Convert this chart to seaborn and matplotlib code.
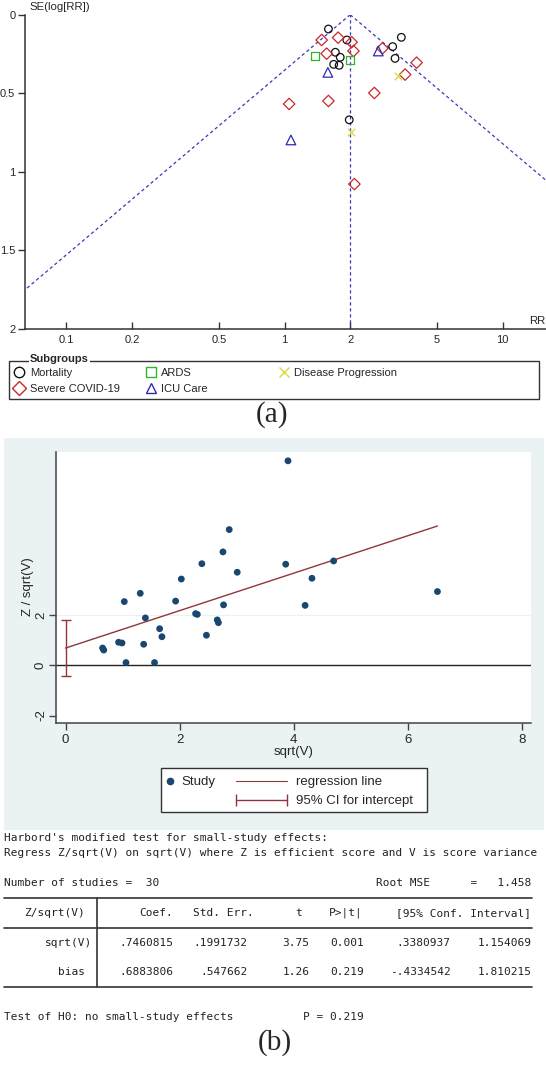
import matplotlib

matplotlib.use("Agg")

import matplotlib.pyplot as plt
import numpy as np
import pandas as pd
import seaborn as sns
from matplotlib.legend_handler import HandlerLine2D
from matplotlib.lines import Line2D
from matplotlib.patches import Rectangle

# --- panel (a): funnel plot, RR against SE(log[RR]) by subgroup ---
mortality_rr = [1.59, 1.93, 3.43, 3.13, 3.21, 1.71, 1.80, 1.68, 1.78, 1.98]
mortality_se = [0.091, 0.161, 0.144, 0.203, 0.278, 0.239, 0.271, 0.316, 0.322, 0.669]
severe_rr = [1.48, 1.76, 2.03, 2.07, 1.56, 2.81, 4.03, 3.57, 2.58, 1.59, 1.05, 2.09]
severe_se = [0.161, 0.146, 0.175, 0.231, 0.248, 0.214, 0.305, 0.381, 0.498, 0.549, 0.568, 1.078]
ards_rr = [1.38, 1.99]
ards_se = [0.263, 0.288]
icu_rr = [2.69, 1.58, 1.07]
icu_se = [0.231, 0.367, 0.797]
progression_rr = [3.32, 2.02]
progression_se = [0.392, 0.746]
subgroups = ["Mortality", "Severe COVID-19", "ARDS", "ICU Care", "Disease Progression"]
pooled_rr = 2.0
rr_ticks = [0.1, 0.2, 0.5, 1, 2, 5, 10]
se_ticks = [0, 0.5, 1, 1.5, 2]

# --- panel (b): Harbord plot ---
sqrt_v = [3.90, 2.87, 2.76, 2.39, 3.86, 4.70, 3.01, 2.03, 4.32, 1.31,
          6.52, 1.03, 1.93, 2.77, 4.20, 2.28, 2.31, 1.40, 2.66, 2.68,
          1.65, 1.69, 2.47, 0.93, 0.99, 1.37, 0.65, 0.67, 1.06, 1.56]
z_over_sqrt_v = [8.15, 5.41, 4.52, 4.05, 4.03, 4.16, 3.71, 3.44, 3.47, 2.87,
                 2.94, 2.54, 2.56, 2.41, 2.39, 2.06, 2.03, 1.89, 1.81, 1.70,
                 1.46, 1.14, 1.20, 0.92, 0.89, 0.84, 0.69, 0.61, 0.11, 0.11]
slope = 0.7460815
bias = 0.6883806
bias_ci = (-0.4334542, 1.810215)

W, H = 546, 1065
NAVY = "#1A476F"
MAROON = "#90353B"
STATA_BG = "#EAF2F3"
FUNNEL_BLUE = "#3A3AB8"
styles = {
    "Mortality": ("o", "#111111", 30),
    "Severe COVID-19": ("D", "#C8282B", 34),
    "ARDS": ("s", "#2DB52D", 34),
    "ICU Care": ("^", "#2B2BB3", 48),
    "Disease Progression": ("x", "#DCD640", 30),
}

sns.set_style("ticks")
plt.rcParams["font.family"] = ["Liberation Sans", "DejaVu Sans"]
plt.rcParams["axes.unicode_minus"] = False

fig = plt.figure(figsize=(W / 100, H / 100), dpi=100)


def fx(px):
    return px / W


def fy(py):
    return 1 - py / H


def add_axes_px(left, top, right, bottom):
    return fig.add_axes([fx(left), fy(bottom), (right - left) / W, (bottom - top) / H])


def hline_px(x0, x1, y, lw=1.2, color="#333333"):
    fig.add_artist(Line2D([fx(x0), fx(x1)], [fy(y), fy(y)], transform=fig.transFigure,
                          color=color, lw=lw))


# ---------------- panel (a) ----------------
funnel = pd.concat([
    pd.DataFrame({"rr": rr, "se": se, "subgroup": name})
    for name, rr, se in zip(subgroups,
                            [mortality_rr, severe_rr, ards_rr, icu_rr, progression_rr],
                            [mortality_se, severe_se, ards_se, icu_se, progression_se])
])

ax_a = add_axes_px(25, 14.7, 545.5, 329)
ax_a.set_facecolor("white")

se_grid = np.linspace(0, 2.2, 60)
dash = (0, (2.6, 2.2))
sns.lineplot(x=pooled_rr * np.exp(-1.96 * se_grid), y=se_grid, sort=False, estimator=None,
             color=FUNNEL_BLUE, lw=0.9, linestyle=dash, ax=ax_a)
sns.lineplot(x=pooled_rr * np.exp(1.96 * se_grid), y=se_grid, sort=False, estimator=None,
             color=FUNNEL_BLUE, lw=0.9, linestyle=dash, ax=ax_a)
ax_a.axvline(pooled_rr, color=FUNNEL_BLUE, lw=0.9, linestyle=dash)

for name in subgroups:
    marker, color, size = styles[name]
    sub = funnel[funnel["subgroup"] == name]
    if marker == "x":
        kw = dict(color=color)
    else:
        kw = dict(facecolor="none", edgecolor=color)
    sns.scatterplot(data=sub, x="rr", y="se", marker=marker, s=size, linewidth=0.9,
                    legend=False, zorder=3, ax=ax_a, **kw)

ax_a.set_xscale("log")
ax_a.set_xlim(0.0647, 15.7)
ax_a.set_ylim(2, 0)
ax_a.set_xticks(rr_ticks)
ax_a.set_xticklabels([f"{t:g}" for t in rr_ticks])
ax_a.xaxis.set_minor_locator(matplotlib.ticker.NullLocator())
ax_a.set_yticks(se_ticks)
ax_a.set_yticklabels([f"{t:g}" for t in se_ticks])
ax_a.set_xlabel("")
ax_a.set_ylabel("")
sns.despine(ax=ax_a)
for side in ["left", "bottom"]:
    ax_a.spines[side].set_color("#333333")
    ax_a.spines[side].set_linewidth(1.1)
ax_a.tick_params(axis="x", direction="in", length=5, width=1, pad=4, labelsize=8,
                 color="#333333")
ax_a.tick_params(axis="y", direction="out", length=5, width=1, pad=2, labelsize=8,
                 color="#333333")
fig.text(fx(29), fy(7.5), "SE(log[RR])", fontsize=8.2, ha="left", va="center")
fig.text(fx(537), fy(321), "RR", fontsize=8.2, ha="center", va="center")

# subgroup legend, one column of entries per legend, inside a framed box
fig.add_artist(Rectangle((fx(8.7), fy(399)), (539 - 8.7) / W, (399 - 360.7) / H,
                         transform=fig.transFigure, facecolor="white",
                         edgecolor="#333333", lw=1))
fig.text(fx(30), fy(359.5), "Subgroups", fontsize=8, fontweight="bold", ha="left",
         va="center", bbox=dict(facecolor="white", edgecolor="none", pad=1))


def subgroup_handle(name):
    marker, color, _ = styles[name]
    if marker == "x":
        return Line2D([], [], ls="none", marker="x", color=color, ms=7, mew=1)
    return Line2D([], [], ls="none", marker=marker, mfc="none", mec=color, ms=7.5, mew=1)


for names, x0 in [(subgroups[0:2], 13.8), (subgroups[2:4], 145), (subgroups[4:5], 278)]:
    fig.legend([subgroup_handle(n) for n in names], names, loc="upper left",
               bbox_to_anchor=(fx(x0), fy(367.8)), frameon=False, fontsize=8,
               borderpad=0, borderaxespad=0, handlelength=1.0, handletextpad=0.45,
               labelspacing=0.53)

fig.text(fx(272), fy(415), "(a)", fontsize=21, family="Liberation Serif",
         ha="center", va="center")

# ---------------- panel (b) ----------------
fig.add_artist(Rectangle((fx(3.5), fy(830)), (544 - 3.5) / W, (830 - 438) / H,
                         transform=fig.transFigure, facecolor=STATA_BG,
                         edgecolor="none", zorder=-1))

harbord = pd.DataFrame({"sqrt_v": sqrt_v, "z_sqrt_v": z_over_sqrt_v})
ax_b = add_axes_px(56, 452.3, 531, 723.3)
ax_b.set_facecolor("white")
ax_b.axhline(2, color=STATA_BG, lw=0.9, zorder=0)
ax_b.axhline(0, color="#222222", lw=1.0, zorder=1)
sns.scatterplot(data=harbord, x="sqrt_v", y="z_sqrt_v", color=NAVY, s=24,
                edgecolor="none", legend=False, zorder=3, ax=ax_b)
fit_x = np.array([0, max(sqrt_v)])
sns.lineplot(x=fit_x, y=bias + slope * fit_x, color=MAROON, lw=1.0, ax=ax_b, zorder=2)
ax_b.errorbar([0], [bias], yerr=[[bias - bias_ci[0]], [bias_ci[1] - bias]], fmt="none",
              ecolor=MAROON, elinewidth=1.0, capsize=3.6, capthick=1.0, zorder=2)

ax_b.set_xlim(-0.167, 8.16)
ax_b.set_ylim(-2.31, 8.49)
ax_b.set_xticks([0, 2, 4, 6, 8])
ax_b.set_yticks([-2, 0, 2])
ax_b.set_xlabel("sqrt(V)", fontsize=9.5)
ax_b.xaxis.set_label_coords(0.5, -0.085)
ax_b.set_ylabel("")
fig.text(fx(27.5), fy(587), "Z / sqrt(V)", fontsize=9.5, rotation=90, ha="center",
         va="center")
sns.despine(ax=ax_b)
for side in ["left", "bottom"]:
    ax_b.spines[side].set_color("#444444")
    ax_b.spines[side].set_linewidth(1.1)
ax_b.tick_params(axis="x", direction="out", length=5, width=1, labelsize=9.5,
                 color="#444444", pad=3)
ax_b.tick_params(axis="y", direction="out", length=5, width=1, labelsize=9.5,
                 color="#444444", pad=1.5)
for lab in ax_b.get_yticklabels():
    lab.set_rotation(90)
    lab.set_va("center")

# Stata-style legend box
fig.add_artist(Rectangle((fx(161), fy(811.7)), (427 - 161) / W, (811.7 - 768.3) / H,
                         transform=fig.transFigure, facecolor="white",
                         edgecolor="#333333", lw=1))
study_handle = Line2D([], [], ls="none", marker="o", color=NAVY, ms=4.5)
reg_handle = Line2D([], [], color=MAROON, lw=0.8)
ci_handle = Line2D([], [], color=MAROON, lw=1.0, marker="|", ms=9, mew=1.0)
fig.legend([study_handle], ["Study"], loc="upper left", bbox_to_anchor=(fx(166), fy(776)),
           frameon=False, fontsize=9.5, borderpad=0, borderaxespad=0, handlelength=0.6,
           handletextpad=0.54)
fig.legend([reg_handle, ci_handle], ["regression line", "95% CI for intercept"],
           loc="upper left", bbox_to_anchor=(fx(235.6), fy(776)), frameon=False,
           fontsize=9.5, borderpad=0, borderaxespad=0, handlelength=3.9,
           handletextpad=0.64, labelspacing=0.53,
           handler_map={ci_handle: HandlerLine2D(numpoints=2, marker_pad=0)})

# Stata results output below the graph
mono = dict(family="DejaVu Sans Mono", fontsize=8, color="#222222", va="center")
fig.text(fx(4), fy(838.3), "Harbord's modified test for small-study effects:", **mono)
fig.text(fx(4), fy(852.7),
         "Regress Z/sqrt(V) on sqrt(V) where Z is efficient score and V is score variance",
         **mono)
fig.text(fx(4), fy(883.3), "Number of studies =  30", **mono)
fig.text(fx(531), fy(883.3), "Root MSE      =   1.458", ha="right", **mono)

hline_px(4, 531.5, 897.7)
hline_px(4, 531.5, 927.7)
hline_px(4, 531.5, 987.3)
fig.add_artist(Line2D([fx(97), fx(97)], [fy(897.7), fy(987.3)], transform=fig.transFigure,
                      color="#333333", lw=1.2))

col_right = [173.3, 247.8, 309.4, 364, 450.8, 531.3]
header = ["Coef.", "Std. Err.", "t", "P>|t|", "", "[95% Conf. Interval]"]
header_right = [172.6, 253.8, 302, 362.3, 450.8, 531.3]
row_sqrt = [".7460815", ".1991732", "3.75", "0.001", ".3380937", "1.154069"]
row_bias = [".6883806", ".547662", "1.26", "0.219", "-.4334542", "1.810215"]

fig.text(fx(85), fy(912.7), "Z/sqrt(V)", ha="right", **mono)
for txt, xr in zip(header, header_right):
    fig.text(fx(xr), fy(912.7), txt, ha="right", **mono)
fig.text(fx(92), fy(942.7), "sqrt(V)", ha="right", **mono)
fig.text(fx(85), fy(972.3), "bias", ha="right", **mono)
for vals, y in [(row_sqrt, 942.7), (row_bias, 972.3)]:
    for txt, xr in zip(vals, col_right):
        fig.text(fx(xr), fy(y), txt, ha="right", **mono)

fig.text(fx(4), fy(1017.3), "Test of H0: no small-study effects", **mono)
fig.text(fx(364), fy(1017.3), "P = 0.219", ha="right", **mono)

fig.text(fx(275), fy(1043), "(b)", fontsize=21, family="Liberation Serif",
         ha="center", va="center")

fig.savefig("out.png", dpi=100, facecolor="white")
